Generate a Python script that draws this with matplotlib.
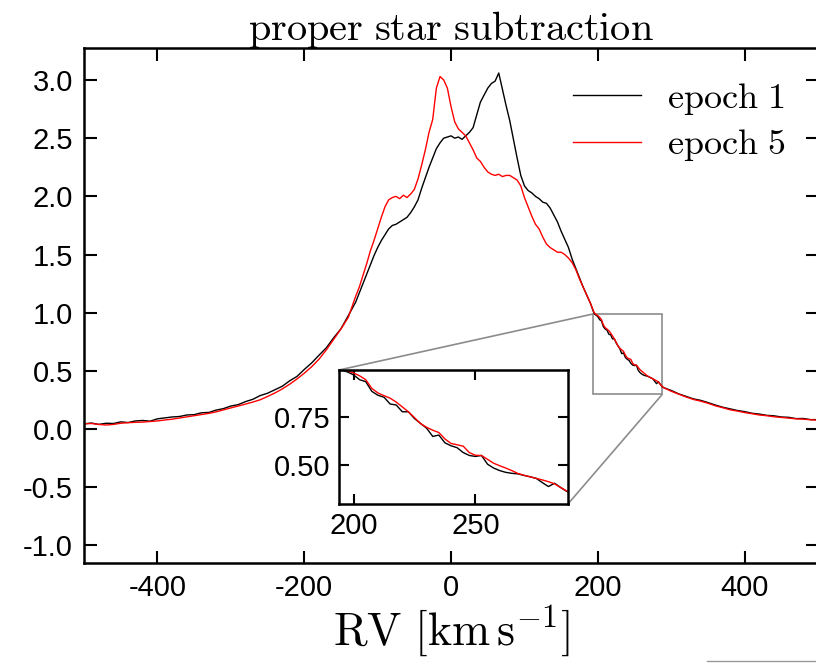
import numpy as np
import matplotlib
matplotlib.use('Agg')
import matplotlib.pyplot as plt
from matplotlib.lines import Line2D
from mpl_toolkits.axes_grid1.inset_locator import mark_inset

plt.rcParams['font.family'] = ['Liberation Sans', 'DejaVu Sans']
plt.rcParams['mathtext.fontset'] = 'cm'
plt.rcParams['axes.unicode_minus'] = False

# RV grid (km/s): coarse in the wings, finer near the peaks and the zoom window
rv = np.concatenate([np.arange(-500, -135, 10),
                     np.arange(-130, 195, 5),
                     np.arange(195, 292.5, 2.5),
                     np.arange(300, 510, 10)])

epoch1 = np.array([
    # -500 .. -140
    0.045, 0.052, 0.040, 0.050, 0.048, 0.062, 0.056, 0.070, 0.074, 0.068,
    0.088, 0.096, 0.104, 0.108, 0.121, 0.124, 0.140, 0.143, 0.163, 0.176,
    0.198, 0.210, 0.236, 0.256, 0.288, 0.308, 0.338, 0.368, 0.414, 0.452,
    0.512, 0.568, 0.634, 0.698, 0.784, 0.862, 0.975,
    # -130 .. 190
    1.09, 1.17, 1.25, 1.33, 1.41, 1.49, 1.56, 1.62, 1.67, 1.72,
    1.75, 1.76, 1.78, 1.80, 1.82, 1.86, 1.91, 1.97, 2.07, 2.16,
    2.25, 2.33, 2.41, 2.46, 2.50, 2.51, 2.52, 2.50, 2.51, 2.49,
    2.52, 2.55, 2.59, 2.70, 2.81, 2.87, 2.93, 2.97, 2.99, 3.06,
    2.92, 2.78, 2.65, 2.49, 2.33, 2.18, 2.09, 2.05, 2.03, 2.00,
    1.98, 1.95, 1.94, 1.90, 1.84, 1.78, 1.70, 1.63, 1.56, 1.46,
    1.38, 1.30, 1.22, 1.15, 1.08,
    # 195 .. 290
    0.990, 0.980, 0.965, 0.940, 0.930, 0.880, 0.860, 0.850, 0.815, 0.810,
    0.775, 0.775, 0.740, 0.715, 0.690, 0.648, 0.655, 0.615, 0.600, 0.590,
    0.565, 0.550, 0.545, 0.550, 0.505, 0.485, 0.472, 0.463, 0.458, 0.455,
    0.447, 0.440, 0.432, 0.410, 0.390, 0.407, 0.385, 0.365, 0.355,
    # 300 .. 500
    0.332, 0.303, 0.282, 0.260, 0.247, 0.228, 0.207, 0.188, 0.174, 0.160,
    0.150, 0.136, 0.129, 0.118, 0.114, 0.104, 0.101, 0.090, 0.091, 0.081,
    0.082])

epoch5 = np.array([
    # -500 .. -140
    0.045, 0.048, 0.040, 0.035, 0.040, 0.050, 0.055, 0.058, 0.060, 0.065,
    0.070, 0.078, 0.085, 0.095, 0.105, 0.115, 0.125, 0.135, 0.148, 0.165,
    0.182, 0.198, 0.215, 0.232, 0.252, 0.280, 0.310, 0.345, 0.385, 0.430,
    0.480, 0.535, 0.600, 0.680, 0.770, 0.860, 0.960,
    # -130 .. 190
    1.14, 1.22, 1.32, 1.42, 1.53, 1.62, 1.72, 1.82, 1.91, 1.97,
    1.99, 2.00, 1.98, 2.01, 1.99, 2.02, 2.06, 2.15, 2.27, 2.40,
    2.55, 2.66, 2.93, 3.03, 3.00, 2.93, 2.77, 2.64, 2.58, 2.55,
    2.52, 2.46, 2.40, 2.33, 2.30, 2.25, 2.21, 2.19, 2.18, 2.19,
    2.17, 2.18, 2.18, 2.16, 2.14, 2.09, 1.99, 1.91, 1.83, 1.76,
    1.72, 1.65, 1.59, 1.56, 1.54, 1.52, 1.52, 1.50, 1.47, 1.43,
    1.37, 1.29, 1.22, 1.15, 1.08,
    # 195 .. 290
    1.000, 0.985, 0.975, 0.960, 0.940, 0.895, 0.872, 0.858, 0.845, 0.825,
    0.800, 0.775, 0.745, 0.714, 0.695, 0.680, 0.668, 0.635, 0.612, 0.605,
    0.598, 0.565, 0.551, 0.550, 0.530, 0.510, 0.497, 0.485, 0.472, 0.457,
    0.448, 0.440, 0.432, 0.424, 0.415, 0.404, 0.385, 0.367, 0.355,
    # 300 .. 500
    0.325, 0.300, 0.276, 0.255, 0.240, 0.222, 0.200, 0.184, 0.166, 0.155,
    0.142, 0.132, 0.121, 0.115, 0.106, 0.100, 0.094, 0.088, 0.085, 0.080,
    0.077])

labels = [r'$\mathrm{epoch\ 1}$', r'$\mathrm{epoch\ 5}$']
colors = ['black', 'red']

fig = plt.figure(figsize=(8.16, 6.63), dpi=100)
ax = fig.add_axes([0.103, 0.151, 0.8995, 0.7766])

ax.plot(rv, epoch1, color=colors[0], lw=1.0, label=labels[0])
ax.plot(rv, epoch5, color=colors[1], lw=1.0, label=labels[1])

ax.set_xlim(-500, 500)
ax.set_ylim(-1.15, 3.275)
ax.set_xticks([-400, -200, 0, 200, 400])
ax.set_yticks([-1.0, -0.5, 0.0, 0.5, 1.0, 1.5, 2.0, 2.5, 3.0])
ax.yaxis.set_major_formatter(plt.FormatStrFormatter('%.1f'))
ax.tick_params(direction='in', top=True, right=True, length=9, width=1.5,
               labelsize=21, pad=8)
for s in ax.spines.values():
    s.set_linewidth(1.8)

ax.set_title(r'$\mathrm{proper\ star\ subtraction}$', fontsize=29, pad=6)
ax.set_xlabel(r'$\mathrm{RV\ [km\,s^{-1}]}$', fontsize=33, labelpad=1)

ax.legend(loc='upper right', frameon=False, fontsize=26, handlelength=1.9,
          handletextpad=0.7, labelspacing=0.3, bbox_to_anchor=(1.0, 1.0))

# zoomed inset
axins = fig.add_axes([0.4154, 0.2398, 0.2806, 0.2021])
axins.plot(rv, epoch1, color=colors[0], lw=1.0)
axins.plot(rv, epoch5, color=colors[1], lw=1.0)
axins.set_xlim(194, 288)
axins.set_ylim(0.30, 0.99)
axins.set_xticks([200, 250])
axins.set_yticks([0.50, 0.75])
axins.yaxis.set_major_formatter(plt.FormatStrFormatter('%.2f'))
axins.tick_params(direction='in', top=True, right=True, length=7, width=1.5,
                  labelsize=21, pad=6)
for s in axins.spines.values():
    s.set_linewidth(1.8)

mark_inset(ax, axins, loc1=2, loc2=4, fc='none', ec='0.55', lw=1.2)

# stray line at the bottom right edge of the original image
fig.add_artist(Line2D([0.866, 1.0], [0.0025, 0.0025], color='0.6', lw=1.0,
                      transform=fig.transFigure))

fig.savefig('out.png', dpi=100)
